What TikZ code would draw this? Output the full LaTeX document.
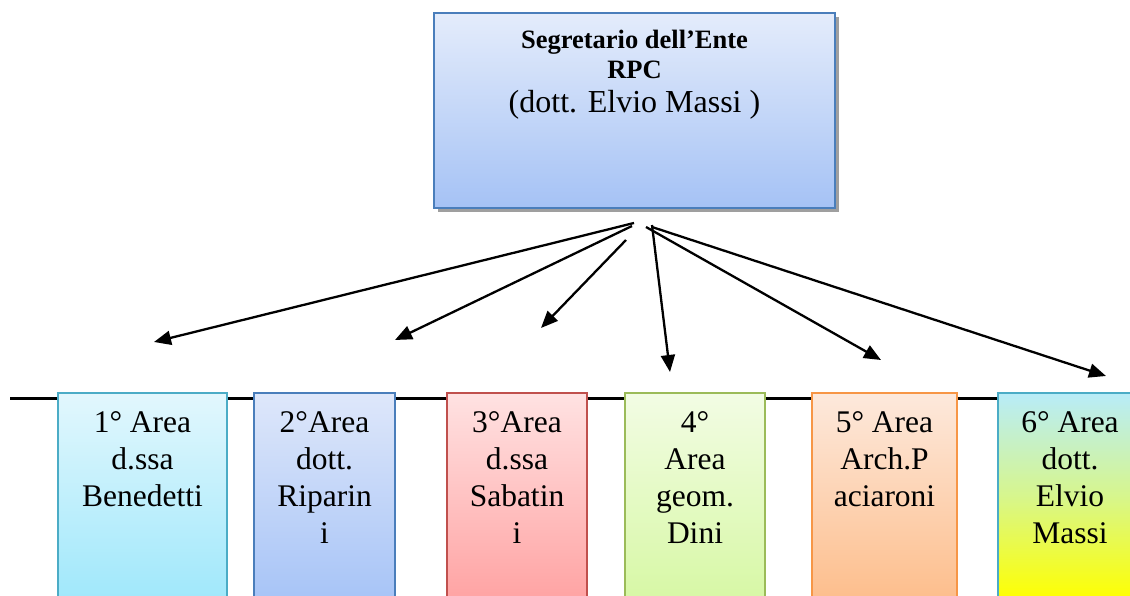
\documentclass[tikz,border=0pt]{standalone}
\usepackage{fontspec}
\setmainfont{Liberation Serif}
\usetikzlibrary{arrows.meta}
\definecolor{bluebd}{HTML}{4A7EBB}
\definecolor{tealbd}{HTML}{4BACC6}
\definecolor{redbd}{HTML}{C0504D}
\definecolor{greenbd}{HTML}{9BBB59}
\definecolor{orangebd}{HTML}{F79646}
\tikzset{
  areabox/.style={draw, line width=1.5pt, inner sep=0pt},
  areatext/.style={anchor=north, inner sep=0pt, align=center, font=\fontsize{31.5}{37}\selectfont},
  fan/.style={line width=2.3pt, -{Triangle[length=17pt,width=14pt]}},
}
\begin{document}
\begin{tikzpicture}[x=1pt,y=-1pt]
\useasboundingbox (0,0) rectangle (1130,596);
\clip (0,0) rectangle (1130,596);
\fill[white] (0,0) rectangle (1130,596);
% top box
\fill[gray!75] (438,17) rectangle (839,212);
\path[areabox, draw=bluebd, top color={rgb,255:red,228;green,236;blue,251}, bottom color={rgb,255:red,165;green,194;blue,245}]
  (434,13) rectangle (835,208);
\node (top) [inner sep=0pt, minimum width=401pt, minimum height=195pt] at (634.5,110.5) {};
\node (t1) [anchor=base, inner sep=0pt, font=\fontsize{26.5}{30}\selectfont\bfseries] at (634.5,49) {Segretario dell’Ente};
\node (t2) [anchor=base, inner sep=0pt, font=\fontsize{26.5}{30}\selectfont\bfseries] at (634.5,79) {RPC};
\node (t3) [anchor=base, inner sep=0pt, font=\fontsize{32}{36}\selectfont] at (634.5,113) {(dott. Elvio Massi )};
% horizontal line
\coordinate (lineL) at (10,398);
\coordinate (lineR) at (1135,398);
\draw[line width=3pt] (lineL) -- (lineR);
% area boxes
\path[areabox, draw=tealbd, top color={rgb,255:red,226;green,247;blue,253}, bottom color={rgb,255:red,160;green,232;blue,251}] (58,393) rectangle (227,600);
\path[areabox, draw=bluebd, top color={rgb,255:red,222;green,231;blue,250}, bottom color={rgb,255:red,167;green,196;blue,247}] (254,393) rectangle (395,600);
\path[areabox, draw=redbd, top color={rgb,255:red,255;green,226;blue,226}, bottom color={rgb,255:red,255;green,163;blue,163}] (447,393) rectangle (587,600);
\path[areabox, draw=greenbd, top color={rgb,255:red,242;green,252;blue,228}, bottom color={rgb,255:red,215;green,248;blue,165}] (625,393) rectangle (765,600);
\path[areabox, draw=orangebd, top color={rgb,255:red,253;green,233;blue,220}, bottom color={rgb,255:red,253;green,190;blue,140}] (812,393) rectangle (957,600);
\path[areabox, draw=tealbd, top color={rgb,255:red,184;green,236;blue,248}, bottom color={rgb,255:red,255;green,255;blue,0}, middle color={rgb,255:red,215;green,246;blue,140}] (998,393) rectangle (1140,600);
% area texts
\node (a1) [areatext] at (142.5,411.5) {1° Area\\d.ssa\\Benedetti};
\node (a2) [areatext] at (324.5,411.5) {2°Area\\dott.\\Riparin\\i};
\node (a3) [areatext] at (517,411.5) {3°Area\\d.ssa\\Sabatin\\i};
\node (a4) [areatext] at (695,411.5) {4°\\Area\\geom.\\Dini};
\node (a5) [areatext] at (884.5,411.5) {5° Area\\Arch.P\\aciaroni};
\node (a6) [areatext] at (1070,411.5) {6° Area\\dott.\\Elvio\\Massi};
% arrows
\coordinate (s1) at (634,223);
\coordinate (s2) at (632,226);
\coordinate (s3) at (626,240);
\coordinate (s4) at (652,225);
\coordinate (s5) at (646,227);
\coordinate (s6) at (652,227);
\coordinate (e1) at (154,342);
\coordinate (e2) at (395,340);
\coordinate (e3) at (541,328);
\coordinate (e4) at (670,372);
\coordinate (e5) at (881,360);
\coordinate (e6) at (1106,376);
\draw[fan] (s1) -- (e1);
\draw[fan] (s2) -- (e2);
\draw[fan] (s3) -- (e3);
\draw[fan] (s4) -- (e4);
\draw[fan] (s5) -- (e5);
\draw[fan] (s6) -- (e6);
\end{tikzpicture}
\end{document}
